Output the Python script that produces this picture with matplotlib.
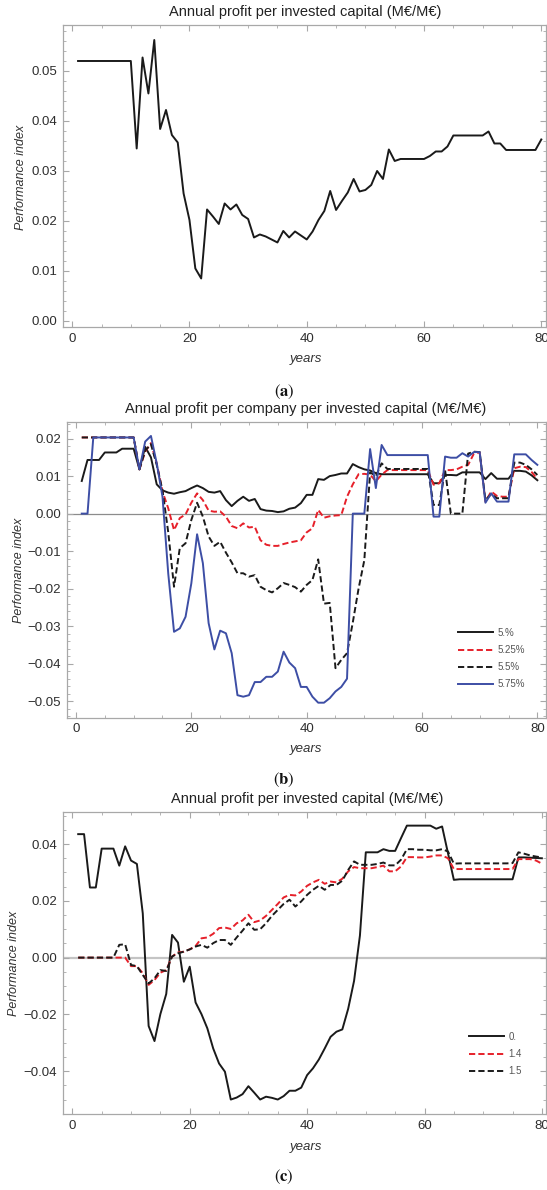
import matplotlib
matplotlib.use("Agg")
import matplotlib.pyplot as plt
from matplotlib.ticker import MultipleLocator, FuncFormatter

plt.rcParams['font.family'] = ['Liberation Sans', 'DejaVu Sans']
plt.rcParams['mathtext.fontset'] = 'stix'

years = list(range(1, 81))

# ---------------- Panel (a) ----------------
a_profit = [0.0520, 0.0520, 0.0520, 0.0520, 0.0520, 0.0520, 0.0520, 0.0520, 0.0520, 0.0520,
            0.0345, 0.0527, 0.0455, 0.0562, 0.0384, 0.0422, 0.0372, 0.0357, 0.0255, 0.0202,
            0.0105, 0.0085, 0.0223, 0.0209, 0.0194, 0.0235, 0.0223, 0.0233, 0.0212, 0.0204,
            0.0167, 0.0173, 0.0169, 0.0163, 0.0157, 0.0180, 0.0167, 0.0179, 0.0171, 0.0163,
            0.0179, 0.0202, 0.0220, 0.0260, 0.0222, 0.0240, 0.0257, 0.0284, 0.0259, 0.0262,
            0.0272, 0.0300, 0.0284, 0.0343, 0.0320, 0.0324, 0.0324, 0.0324, 0.0324, 0.0324,
            0.0330, 0.0339, 0.0339, 0.0349, 0.0371, 0.0371, 0.0371, 0.0371, 0.0371, 0.0371,
            0.0379, 0.0355, 0.0355, 0.0342, 0.0342, 0.0342, 0.0342, 0.0342, 0.0342, 0.0363]

# ---------------- Panel (b) ----------------
b_labels = ["5.%", "5.25%", "5.5%", "5.75%"]
b_500 = [0.0087, 0.0143, 0.0143, 0.0143, 0.0163, 0.0163, 0.0163, 0.0173, 0.0173, 0.0173,
         0.0118, 0.0178, 0.0150, 0.0078, 0.0062, 0.0056, 0.0053, 0.0057, 0.0060, 0.0068,
         0.0075, 0.0068, 0.0058, 0.0056, 0.0060, 0.0036, 0.0020, 0.0034, 0.0045, 0.0034,
         0.0039, 0.0012, 0.0008, 0.0007, 0.0004, 0.0006, 0.0013, 0.0016, 0.0028, 0.0050,
         0.0050, 0.0092, 0.0090, 0.0100, 0.0103, 0.0107, 0.0107, 0.0132, 0.0124, 0.0118,
         0.0115, 0.0108, 0.0105, 0.0105, 0.0105, 0.0105, 0.0105, 0.0105, 0.0105, 0.0105,
         0.0105, 0.0081, 0.0081, 0.0103, 0.0103, 0.0102, 0.0110, 0.0110, 0.0110, 0.0110,
         0.0092, 0.0108, 0.0093, 0.0093, 0.0093, 0.0114, 0.0114, 0.0112, 0.0102, 0.0089]
b_525 = [0.0203, 0.0203, 0.0203, 0.0203, 0.0203, 0.0203, 0.0203, 0.0203, 0.0203, 0.0203,
         0.0118, 0.0165, 0.0188, 0.0134, 0.0059, 0.0014, -0.0044, -0.0012, -0.0002, 0.0029,
         0.0054, 0.0036, 0.0008, 0.0005, 0.0006, -0.0008, -0.0033, -0.0039, -0.0026, -0.0037,
         -0.0035, -0.0071, -0.0083, -0.0086, -0.0086, -0.0081, -0.0077, -0.0074, -0.0071, -0.0050,
         -0.0039, 0.0010, -0.0011, -0.0007, -0.0005, -0.0004, 0.0045, 0.0078, 0.0105, 0.0106,
         0.0104, 0.0086, 0.0104, 0.0116, 0.0116, 0.0116, 0.0116, 0.0116, 0.0116, 0.0116,
         0.0116, 0.0077, 0.0081, 0.0116, 0.0116, 0.0118, 0.0125, 0.0130, 0.0160, 0.0163,
         0.0032, 0.0059, 0.0047, 0.0045, 0.0045, 0.0121, 0.0125, 0.0124, 0.0111, 0.0092]
b_550 = [0.0203, 0.0203, 0.0203, 0.0203, 0.0203, 0.0203, 0.0203, 0.0203, 0.0203, 0.0203,
         0.0118, 0.0168, 0.0185, 0.0130, 0.0062, -0.0050, -0.0195, -0.0092, -0.0079, -0.0017,
         0.0029, -0.0008, -0.0061, -0.0086, -0.0075, -0.0104, -0.0130, -0.0159, -0.0159, -0.0168,
         -0.0164, -0.0195, -0.0204, -0.0210, -0.0199, -0.0185, -0.0190, -0.0196, -0.0208, -0.0190,
         -0.0177, -0.0122, -0.0240, -0.0238, -0.0412, -0.0390, -0.0372, -0.0290, -0.0200, -0.0124,
         0.0110, 0.0100, 0.0134, 0.0119, 0.0119, 0.0119, 0.0119, 0.0119, 0.0119, 0.0119,
         0.0119, 0.0023, 0.0023, 0.0116, 0.0000, 0.0000, 0.0000, 0.0160, 0.0165, 0.0164,
         0.0036, 0.0052, 0.0041, 0.0041, 0.0041, 0.0136, 0.0136, 0.0130, 0.0118, 0.0103]
b_575 = [0.0000, 0.0000, 0.0203, 0.0203, 0.0203, 0.0203, 0.0203, 0.0203, 0.0203, 0.0203,
         0.0118, 0.0192, 0.0207, 0.0134, 0.0045, -0.0160, -0.0315, -0.0306, -0.0275, -0.0186,
         -0.0055, -0.0132, -0.0292, -0.0362, -0.0312, -0.0319, -0.0372, -0.0484, -0.0488, -0.0484,
         -0.0449, -0.0449, -0.0435, -0.0435, -0.0421, -0.0368, -0.0397, -0.0412, -0.0462, -0.0462,
         -0.0488, -0.0504, -0.0504, -0.0492, -0.0474, -0.0462, -0.0440, 0.0000, 0.0000, 0.0000,
         0.0172, 0.0068, 0.0183, 0.0156, 0.0156, 0.0156, 0.0156, 0.0156, 0.0156, 0.0156,
         0.0156, -0.0008, -0.0008, 0.0152, 0.0149, 0.0149, 0.0161, 0.0152, 0.0164, 0.0164,
         0.0029, 0.0054, 0.0032, 0.0032, 0.0032, 0.0158, 0.0158, 0.0158, 0.0143, 0.0130]

# ---------------- Panel (c) ----------------
c_labels = ["0.", "1.4", "1.5"]
c_00 = [0.0435, 0.0435, 0.0247, 0.0247, 0.0384, 0.0384, 0.0384, 0.0324, 0.0392, 0.0342,
        0.0330, 0.0156, -0.0241, -0.0294, -0.0199, -0.0128, 0.0080, 0.0053, -0.0085, -0.0032,
        -0.0158, -0.0199, -0.0249, -0.0320, -0.0373, -0.0402, -0.0500, -0.0493, -0.0481, -0.0453,
        -0.0476, -0.0500, -0.0490, -0.0494, -0.0500, -0.0488, -0.0469, -0.0469, -0.0458, -0.0414,
        -0.0390, -0.0359, -0.0320, -0.0279, -0.0261, -0.0253, -0.0180, -0.0082, 0.0078, 0.0371,
        0.0371, 0.0371, 0.0382, 0.0376, 0.0376, 0.0421, 0.0465, 0.0465, 0.0465, 0.0465,
        0.0465, 0.0454, 0.0462, 0.0368, 0.0274, 0.0276, 0.0276, 0.0276, 0.0276, 0.0276,
        0.0276, 0.0276, 0.0276, 0.0276, 0.0276, 0.0353, 0.0353, 0.0352, 0.0351, 0.0350]
c_14 = [0.0000, 0.0000, 0.0000, 0.0000, 0.0000, 0.0000, 0.0000, 0.0000, 0.0000, -0.0030,
        -0.0030, -0.0055, -0.0096, -0.0079, -0.0053, -0.0044, 0.0004, 0.0018, 0.0021, 0.0029,
        0.0041, 0.0068, 0.0071, 0.0084, 0.0104, 0.0106, 0.0101, 0.0121, 0.0131, 0.0151,
        0.0125, 0.0131, 0.0147, 0.0168, 0.0189, 0.0212, 0.0221, 0.0219, 0.0233, 0.0253,
        0.0265, 0.0274, 0.0260, 0.0268, 0.0265, 0.0278, 0.0304, 0.0319, 0.0315, 0.0315,
        0.0315, 0.0319, 0.0324, 0.0304, 0.0304, 0.0321, 0.0354, 0.0354, 0.0353, 0.0353,
        0.0356, 0.0360, 0.0360, 0.0350, 0.0312, 0.0312, 0.0312, 0.0312, 0.0312, 0.0312,
        0.0312, 0.0312, 0.0312, 0.0312, 0.0312, 0.0347, 0.0347, 0.0347, 0.0342, 0.0331]
c_15 = [0.0000, 0.0000, 0.0000, 0.0000, 0.0000, 0.0000, 0.0000, 0.0045, 0.0047, -0.0026,
        -0.0030, -0.0061, -0.0091, -0.0073, -0.0044, -0.0047, 0.0004, 0.0015, 0.0021, 0.0029,
        0.0039, 0.0045, 0.0035, 0.0051, 0.0062, 0.0062, 0.0045, 0.0071, 0.0095, 0.0121,
        0.0098, 0.0100, 0.0121, 0.0147, 0.0168, 0.0189, 0.0204, 0.0180, 0.0198, 0.0221,
        0.0239, 0.0253, 0.0239, 0.0256, 0.0256, 0.0271, 0.0309, 0.0339, 0.0327, 0.0327,
        0.0327, 0.0330, 0.0335, 0.0325, 0.0325, 0.0345, 0.0382, 0.0382, 0.0380, 0.0380,
        0.0378, 0.0378, 0.0382, 0.0374, 0.0331, 0.0332, 0.0332, 0.0332, 0.0332, 0.0332,
        0.0332, 0.0332, 0.0332, 0.0332, 0.0333, 0.0371, 0.0366, 0.0360, 0.0356, 0.0353]

titles = ["Annual profit per invested capital (M\u20ac/M\u20ac)",
          "Annual profit per company per invested capital (M\u20ac/M\u20ac)",
          "Annual profit per invested capital (M\u20ac/M\u20ac)"]

W, H = 547, 1190
fig = plt.figure(figsize=(W / 100, H / 100), dpi=100)

def rect(l, r, t, b):
    return [l / W, 1 - b / H, (r - l) / W, (b - t) / H]

def ftext(x, y, s, **kw):
    fig.text(x / W, 1 - y / H, s, **kw)

BLACK = '#1a1a1a'
RED = '#e6202a'
BLUE = '#3d4ea5'
FRAME = '#a8a8a8'
TICKC = '#2e2e2e'

def fmt2(v, pos):
    s = f"{abs(v):.2f}"
    if round(v, 4) < 0:
        return "\u2212" + s
    return s

def style(ax, ymaj, ymin):
    for sp in ax.spines.values():
        sp.set_color(FRAME)
        sp.set_linewidth(0.9)
    ax.xaxis.set_major_locator(MultipleLocator(20))
    ax.xaxis.set_minor_locator(MultipleLocator(5))
    ax.yaxis.set_major_locator(MultipleLocator(ymaj))
    ax.yaxis.set_minor_locator(MultipleLocator(ymin))
    ax.yaxis.set_major_formatter(FuncFormatter(fmt2))
    ax.tick_params(which='both', direction='in', top=True, right=True, color=FRAME,
                   labelcolor=TICKC, labelsize=9.5)
    ax.tick_params(which='major', length=4.5, width=0.8, pad=4)
    ax.tick_params(which='minor', length=2.5, width=0.6)

DASH = (0, (3.2, 1.6))

# Panel a
axa = fig.add_axes(rect(62.8, 546, 25, 327.3))
axa.plot(years, a_profit, color=BLACK, lw=1.4)
axa.set_xlim(-1.60, 80.8)
axa.set_ylim(-0.00127, 0.0592)
style(axa, 0.01, 0.002)

# Panel b
axb = fig.add_axes(rect(66.7, 545.7, 421.7, 717.7))
axb.axhline(0, color='#8c8c8c', lw=0.9, zorder=1)
axb.plot(years, b_500, color=BLACK, lw=1.4, label=b_labels[0])
axb.plot(years, b_525, color=RED, lw=1.4, linestyle=DASH, label=b_labels[1])
axb.plot(years, b_550, color=BLACK, lw=1.4, linestyle=DASH, label=b_labels[2])
axb.plot(years, b_575, color=BLUE, lw=1.4, label=b_labels[3])
axb.set_xlim(-1.61, 81.45)
axb.set_ylim(-0.0544, 0.0245)
style(axb, 0.01, 0.002)
hb = axb.get_legend_handles_labels()
leg = axb.legend(hb[0], hb[1], loc='upper left', frameon=False, fontsize=7,
                 bbox_to_anchor=(453 / W, 1 - 623 / H), bbox_transform=fig.transFigure,
                 borderpad=0, handlelength=3.6, handletextpad=0.5, labelspacing=0.74)
for t in leg.get_texts():
    t.set_color('#555555')

# Panel c
axc = fig.add_axes(rect(62.7, 546, 812, 1114.3))
axc.axhline(0, color='#c4c4c4', lw=1.6, zorder=1)
axc.plot(years, c_00, color=BLACK, lw=1.4, label=c_labels[0])
axc.plot(years, c_14, color=RED, lw=1.4, linestyle=DASH, label=c_labels[1])
axc.plot(years, c_15, color=BLACK, lw=1.4, linestyle=DASH, label=c_labels[2])
axc.set_xlim(-1.64, 80.7)
axc.set_ylim(-0.0552, 0.0513)
style(axc, 0.02, 0.005)
hc = axc.get_legend_handles_labels()
leg = axc.legend(hc[0], hc[1], loc='upper left', frameon=False, fontsize=7,
                 bbox_to_anchor=(464 / W, 1 - 1027 / H), bbox_transform=fig.transFigure,
                 borderpad=0, handlelength=3.6, handletextpad=0.5, labelspacing=0.74)
for t in leg.get_texts():
    t.set_color('#555555')

# Titles, axis labels, panel letters
for (x, y), s in zip([(305, 12.3), (306, 409.3), (307, 799)], titles):
    ftext(x, y, s, ha='center', va='center', fontsize=10.5, color='#222222')
for y in [359, 749, 1146.7]:
    ftext(306, y, "years", ha='center', va='center', fontsize=9.5, style='italic', color='#333333')
for x, y in [(21, 177), (19, 570), (14, 963)]:
    ftext(x, y, "Performance index", ha='center', va='center', rotation=90,
          fontsize=9, style='italic', color='#333333')
for y, l in [(392, 'a'), (780, 'b'), (1177, 'c')]:
    ftext(284, y, "($\\mathbf{%s}$)" % l, ha='center', va='center', fontsize=12,
          family='STIXGeneral', color='#111111')

fig.savefig("out.png", dpi=100)
